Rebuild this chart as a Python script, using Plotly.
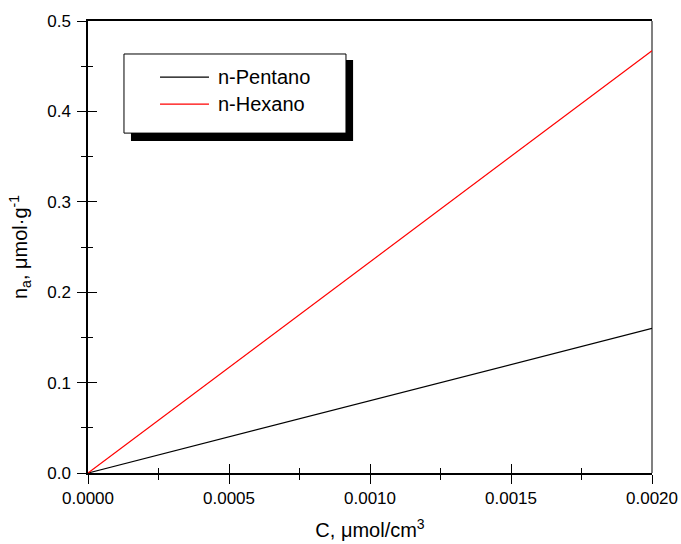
import plotly.graph_objects as go

# Adsorbed amount vs. concentration (linear isotherms)
conc = [0.0, 0.0020]
pentano = [0.0, 0.160]
hexano = [0.0, 0.467]
series_names = ["n-Pentano", "n-Hexano"]
series_colors = ["#000000", "#ff0000"]

x_ticks = [0.0, 0.0005, 0.0010, 0.0015, 0.0020]
x_ticklabels = ["0.0000", "0.0005", "0.0010", "0.0015", "0.0020"]
y_ticks = [0.0, 0.1, 0.2, 0.3, 0.4, 0.5]
y_ticklabels = ["0.0", "0.1", "0.2", "0.3", "0.4", "0.5"]

FONT = "Liberation Sans, Arial, sans-serif"

fig = go.Figure()
for name, vals, col in zip(series_names, [pentano, hexano], series_colors):
    fig.add_trace(go.Scatter(x=conc, y=vals, mode="lines", name=name,
                             line=dict(color=col, width=1.2),
                             showlegend=False, hoverinfo="skip"))

# helper trace so the overlaid (inside-tick) axes are rendered
fig.add_trace(go.Scatter(x=[conc[0]], y=[pentano[0]], xaxis="x2", yaxis="y2",
                         mode="markers", marker=dict(opacity=0),
                         showlegend=False, hoverinfo="skip"))

xr = [0.0, 0.0020]
yr = [0.0, 0.5]

fig.update_layout(
    width=681, height=544,
    margin=dict(l=88, r=29, t=21, b=71),
    paper_bgcolor="white", plot_bgcolor="white",
    font=dict(family=FONT, color="black"),
    xaxis=dict(range=xr, tickvals=x_ticks, ticktext=x_ticklabels, automargin=False,
               ticks="outside", ticklen=9, tickwidth=1.2, tickcolor="black",
               minor=dict(tickvals=[0.00025, 0.00075, 0.00125, 0.00175],
                          ticks="outside", ticklen=5, tickwidth=1.2, tickcolor="black"),
               showline=True, linecolor="black", linewidth=1.5, mirror=True,
               showgrid=False, zeroline=False,
               tickfont=dict(size=17),
               title=dict(text="C, \u03bcmol/cm<sup>3</sup>", font=dict(size=20), standoff=16)),
    yaxis=dict(range=yr, tickvals=y_ticks, ticktext=y_ticklabels, automargin=False,
               ticks="outside", ticklen=9, tickwidth=1.2, tickcolor="black",
               minor=dict(tickvals=[0.05, 0.15, 0.25, 0.35, 0.45],
                          ticks="outside", ticklen=5, tickwidth=1.2, tickcolor="black"),
               showline=True, linecolor="black", linewidth=1.5,
               showgrid=False, zeroline=False,
               tickfont=dict(size=17), ticklabelstandoff=3,
               title=dict(text="n<sub>a</sub>, \u03bcmol\u00b7g<sup>-1</sup>", font=dict(size=20), standoff=14)),
    xaxis2=dict(range=xr, overlaying="x", anchor="y2", side="bottom", automargin=False,
                tickvals=x_ticks, ticks="inside", ticklen=9, tickwidth=1.2, tickcolor="black",
                minor=dict(tickvals=[0.00025, 0.00075, 0.00125, 0.00175],
                           ticks="inside", ticklen=5, tickwidth=1.2, tickcolor="black"),
                showticklabels=False, showline=False, showgrid=False, zeroline=False),
    yaxis2=dict(range=yr, overlaying="y", anchor="x2", side="left", automargin=False,
                tickvals=y_ticks, ticks="inside", ticklen=9, tickwidth=1.2, tickcolor="black",
                minor=dict(tickvals=[0.05, 0.15, 0.25, 0.35, 0.45],
                           ticks="inside", ticklen=5, tickwidth=1.2, tickcolor="black"),
                showticklabels=False, showline=False, showgrid=False, zeroline=False),
)

# right frame edge in grey
fig.add_shape(type="line", xref="paper", yref="paper", x0=1, x1=1, y0=0, y1=1,
              line=dict(color="#808080", width=2), layer="below")

# legend box with drop shadow
fig.add_shape(type="rect", xref="paper", yref="paper",
              x0=0.0762, x1=0.470, y0=0.7345, y1=0.9137,
              fillcolor="black", line=dict(width=0))
fig.add_shape(type="rect", xref="paper", yref="paper",
              x0=0.0638, x1=0.4574, y0=0.752, y1=0.927,
              fillcolor="white", line=dict(color="black", width=1))
for name, col, yy in zip(series_names, series_colors, [0.876, 0.816]):
    fig.add_shape(type="line", xref="paper", yref="paper",
                  x0=0.1277, x1=0.2145, y0=yy, y1=yy,
                  line=dict(color=col, width=1.2))
    fig.add_annotation(xref="paper", yref="paper", x=0.227, y=yy,
                       xanchor="left", yanchor="middle", showarrow=False,
                       text=name, font=dict(size=20, family=FONT, color="black"))

fig.write_html("out.html")
